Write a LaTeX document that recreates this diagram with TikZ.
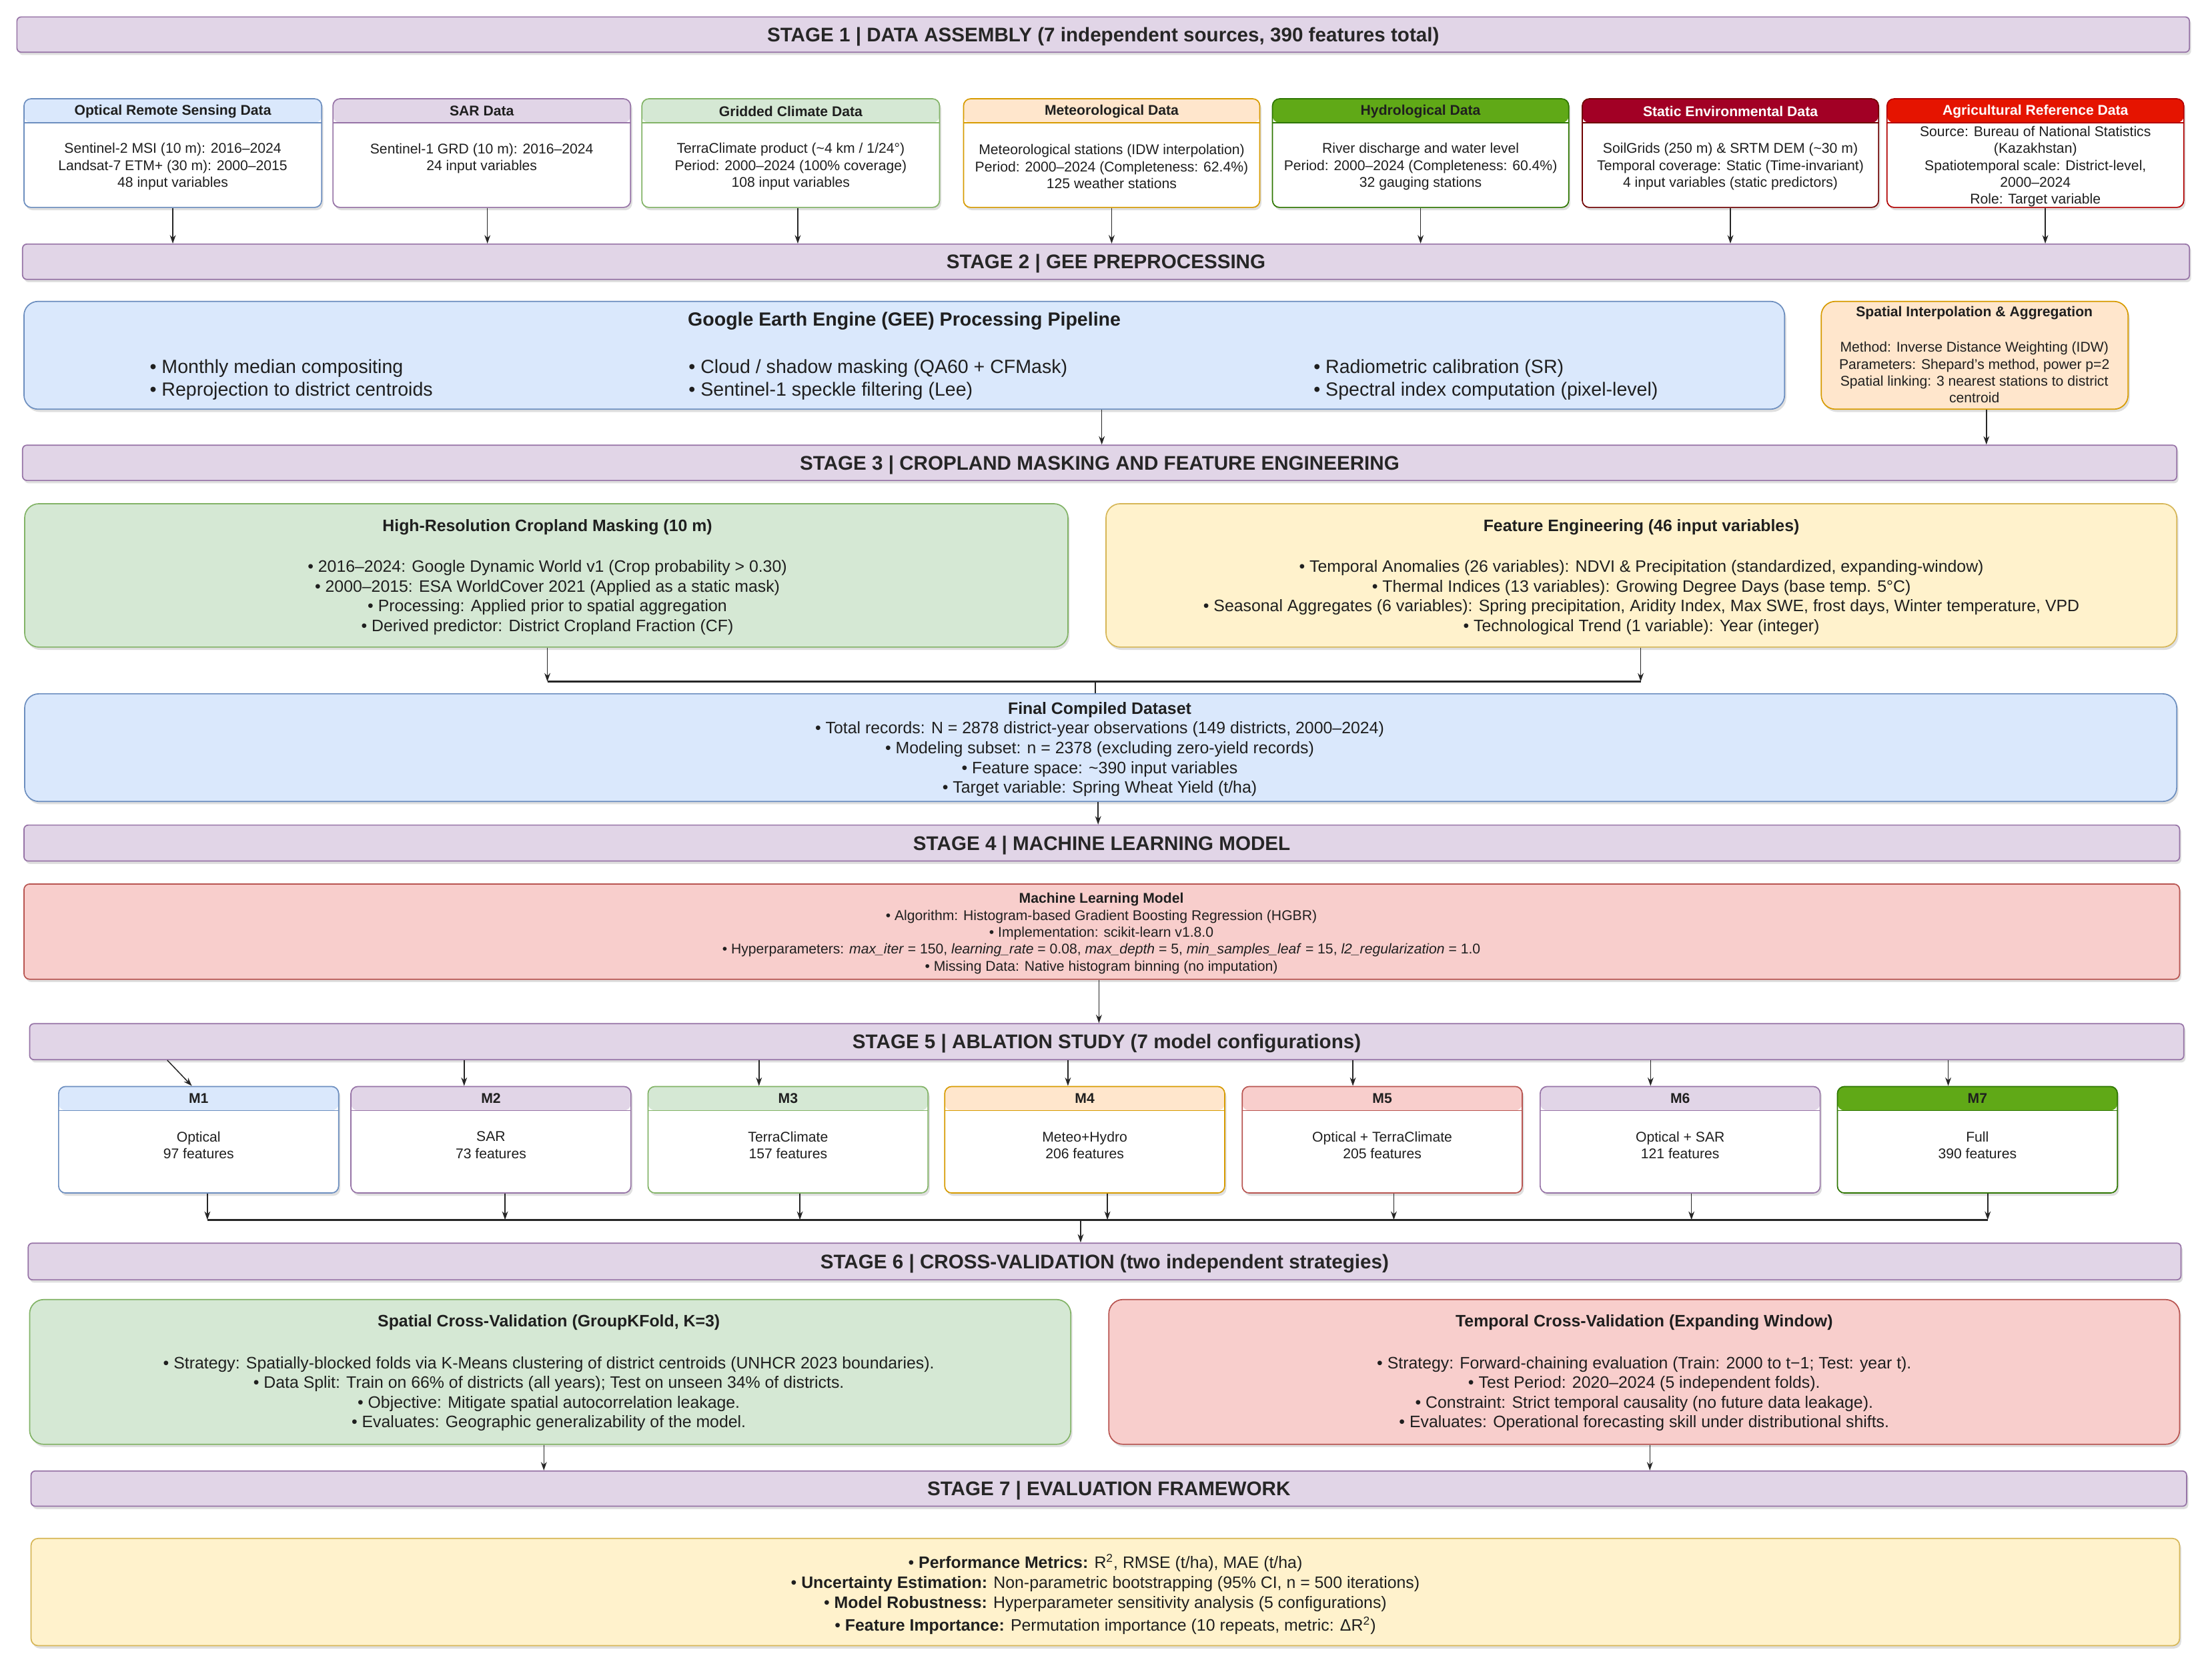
\documentclass[tikz,border=0pt]{standalone}
\usepackage{fontspec}
\setmainfont{Liberation Sans}
\usetikzlibrary{arrows.meta,shadows,calc}
\definecolor{pF}{HTML}{E1D5E7}\definecolor{pD}{HTML}{9673A6}
\definecolor{bF}{HTML}{DAE8FC}\definecolor{bD}{HTML}{6C8EBF}
\definecolor{gF}{HTML}{D5E8D4}\definecolor{gD}{HTML}{82B366}
\definecolor{oF}{HTML}{FFE6CC}\definecolor{oD}{HTML}{D79B00}
\definecolor{yF}{HTML}{FFF2CC}\definecolor{yD}{HTML}{D6B656}
\definecolor{rF}{HTML}{F8CECC}\definecolor{rD}{HTML}{B85450}
\definecolor{dgF}{HTML}{60A917}\definecolor{dgD}{HTML}{2D7600}
\definecolor{crF}{HTML}{A20025}\definecolor{crD}{HTML}{6F0000}
\definecolor{reF}{HTML}{E51400}\definecolor{reD}{HTML}{B20000}
\begin{document}
\begin{tikzpicture}[x=1pt, y=-1pt,
  shd/.style={drop shadow={opacity=0.25, shadow xshift=1.2pt, shadow yshift=-2pt}},
  stagebar/.style={draw=pD, fill=pF, line width=0.8pt, rounded corners=3pt, inner sep=0pt, shd,
    font=\fontsize{14}{16}\selectfont\bfseries, text=black!85, text height=10pt, text depth=0pt},
  bigbox/.style 2 args={fill=#1, draw=#2, line width=0.8pt, rounded corners=10pt, inner sep=0pt, shd},
  hbox/.style n args={3}{rounded corners=5pt, fill=white, draw=#2, line width=0.8pt, inner sep=0pt, shd,
    path picture={\fill[#1] (path picture bounding box.north west) rectangle ([yshift=-#3]path picture bounding box.north east);
      \draw[#2, line width=0.8pt] ([yshift=-#3]path picture bounding box.north west) -- ([yshift=-#3]path picture bounding box.north east);}},
  txt/.style={inner sep=0pt, align=center, text=black!88},
  fa/.style={font=\fontsize{10}{12}\selectfont},
  fab/.style={font=\fontsize{10}{12}\selectfont\bfseries},
  fb/.style={font=\fontsize{11.75}{14}\selectfont},
  fbb/.style={font=\fontsize{11.75}{14}\selectfont\bfseries},
  fc/.style={font=\fontsize{13.5}{16}\selectfont},
  fcb/.style={font=\fontsize{13.5}{16}\selectfont\bfseries},
  arr/.style={draw=black!85, line width=0.7pt, -{Stealth[length=6pt, width=4.2pt]}},
  conn/.style={draw=black!85, line width=0.7pt},
  busline/.style={draw=black!85, line width=1.2pt},
]
\useasboundingbox (0,0) rectangle (1568,1180.7);
\fill[white] (0,0) rectangle (1568,1180.7);

% ---------------- Stage 1
\node[stagebar, minimum width=1540pt, minimum height=25pt] (st1) at (782,24.5)
  {STAGE 1 | DATA ASSEMBLY (7 independent sources, 390 features total)};

\node[hbox={bF}{bD}{17pt}, minimum width=211pt, minimum height=77pt] (s1) at (122.5,108.5) {};
\node[hbox={pF}{pD}{17pt}, minimum width=211pt, minimum height=77pt] (s2) at (341.5,108.5) {};
\node[hbox={gF}{gD}{17pt}, minimum width=211pt, minimum height=77pt] (s3) at (560.5,108.5) {};
\node[hbox={oF}{oD}{17pt}, minimum width=210pt, minimum height=77pt] (s4) at (788,108.5) {};
\node[hbox={dgF}{dgD}{17pt}, minimum width=210pt, minimum height=77pt] (s5) at (1007,108.5) {};
\node[hbox={crF}{crD}{17pt}, minimum width=210pt, minimum height=77pt] (s6) at (1226.6,108.5) {};
\node[hbox={reF}{reD}{17pt}, minimum width=210.4pt, minimum height=77pt] (s7) at (1442.8,108.5) {};

\node[txt, fab] (s1h) at (122.5,78.8) {Optical Remote Sensing Data};
\node[txt, fab] (s2h) at (341.5,78.8) {SAR Data};
\node[txt, fab] (s3h) at (560.5,78.8) {Gridded Climate Data};
\node[txt, fab] (s4h) at (788,78.8) {Meteorological Data};
\node[txt, fab] (s5h) at (1007,78.8) {Hydrological Data};
\node[txt, fab, text=white] (s6h) at (1226.6,78.8) {Static Environmental Data};
\node[txt, fab, text=white] (s7h) at (1442.8,78.8) {Agricultural Reference Data};

\node[txt, fa] (s1t) at (122.5,118) {Sentinel-2 MSI (10 m): 2016–2024\\Landsat-7 ETM+ (30 m): 2000–2015\\48 input variables};
\node[txt, fa] (s2t) at (341.5,112.2) {Sentinel-1 GRD (10 m): 2016–2024\\24 input variables};
\node[txt, fa] (s3t) at (560.5,118) {TerraClimate product (\textasciitilde4 km / 1/24°)\\Period: 2000–2024 (100\% coverage)\\108 input variables};
\node[txt, fa] (s4t) at (788,118) {Meteorological stations (IDW interpolation)\\Period: 2000–2024 (Completeness: 62.4\%)\\125 weather stations};
\node[txt, fa] (s5t) at (1007,118) {River discharge and water level\\Period: 2000–2024 (Completeness: 60.4\%)\\32 gauging stations};
\node[txt, fa] (s6t) at (1226.6,118) {SoilGrids (250 m) \& SRTM DEM (\textasciitilde30 m)\\Temporal coverage: Static (Time-invariant)\\4 input variables (static predictors)};
\node[txt, fa] (s7t) at (1442.8,118) {Source: Bureau of National Statistics\\(Kazakhstan)\\Spatiotemporal scale: District-level,\\2000–2024\\Role: Target variable};

% ---------------- Stage 2
\node[stagebar, minimum width=1536pt, minimum height=25pt] (st2) at (784,185.5)
  {STAGE 2 | GEE PREPROCESSING};

\coordinate (a1) at (s1.south);
\coordinate (a2) at ([xshift=4pt]s2.south);
\coordinate (a3) at ([xshift=5pt]s3.south);
\coordinate (a4) at (s4.south);
\coordinate (a5) at (s5.south);
\coordinate (a6) at (s6.south);
\coordinate (a7) at ([xshift=7pt]s7.south);
\foreach \i in {1,...,7} {\draw[arr] (a\i) -- (a\i |- st2.north);}

\node[bigbox={bF}{bD}, minimum width=1248pt, minimum height=76.4pt] (gee) at (641,251.8) {};
\node[txt, fcb] (geeh) at (641,227.7) {Google Earth Engine (GEE) Processing Pipeline};
\node[txt, fc, anchor=west, align=left] (gee1) at (106,269) {• Monthly median compositing\\• Reprojection to district centroids};
\node[txt, fc, anchor=west, align=left] (gee2) at (488,269) {• Cloud / shadow masking (QA60 + CFMask)\\• Sentinel-1 speckle filtering (Lee)};
\node[txt, fc, anchor=west, align=left] (gee3) at (931,269) {• Radiometric calibration (SR)\\• Spectral index computation (pixel-level)};

\node[bigbox={oF}{oD}, minimum width=217.5pt, minimum height=76.4pt] (sia) at (1399.75,251.8) {};
\node[txt, fab] (siah) at (1399.5,221.6) {Spatial Interpolation \& Aggregation};
\node[txt, fa] (siat) at (1399.5,264) {Method: Inverse Distance Weighting (IDW)\\Parameters: Shepard's method, power p=2\\Spatial linking: 3 nearest stations to district\\centroid};

% ---------------- Stage 3
\node[stagebar, minimum width=1527pt, minimum height=25pt] (st3) at (779.5,328)
  {STAGE 3 | CROPLAND MASKING AND FEATURE ENGINEERING};
\coordinate (g1) at ([xshift=140pt]gee.south);
\coordinate (g2) at ([xshift=8.3pt]sia.south);
\draw[arr] (g1) -- (g1 |- st3.north);
\draw[arr] (g2) -- (g2 |- st3.north);

\node[bigbox={gF}{gD}, minimum width=739.5pt, minimum height=101.6pt] (crop) at (387.25,407.8) {};
\node[txt, fbb] (croph) at (388,373.7) {High-Resolution Cropland Masking (10 m)};
\node[txt, fb] (cropt) at (388,423.5) {• 2016–2024: Google Dynamic World v1 (Crop probability > 0.30)\\• 2000–2015: ESA WorldCover 2021 (Applied as a static mask)\\• Processing: Applied prior to spatial aggregation\\• Derived predictor: District Cropland Fraction (CF)};

\node[bigbox={yF}{yD}, minimum width=759pt, minimum height=101.6pt] (feat) at (1163.5,407.8) {};
\node[txt, fbb] (feath) at (1163.5,373.7) {Feature Engineering (46 input variables)};
\node[txt, fb] (featt) at (1163.5,423.5) {• Temporal Anomalies (26 variables): NDVI \& Precipitation (standardized, expanding-window)\\• Thermal Indices (13 variables): Growing Degree Days (base temp. 5°C)\\• Seasonal Aggregates (6 variables): Spring precipitation, Aridity Index, Max SWE, frost days, Winter temperature, VPD\\• Technological Trend (1 variable): Year (integer)};

\coordinate (b1) at (388,483);
\coordinate (b2) at (1163,483);
\coordinate (b3) at (776.5,483);
\draw[arr] (crop.south -| b1) -- (b1);
\draw[arr] (feat.south -| b2) -- (b2);
\draw[busline] (b1) -- (b2);

\node[bigbox={bF}{bD}, minimum width=1525.5pt, minimum height=76.3pt] (ds) at (780.25,529.85) {};
\draw[conn] (b3) -- (b3 |- ds.north);
\node[txt, fb] (dst) at (779.5,531) {\textbf{Final Compiled Dataset}\\• Total records: N = 2878 district-year observations (149 districts, 2000–2024)\\• Modeling subset: n = 2378 (excluding zero-yield records)\\• Feature space: \textasciitilde390 input variables\\• Target variable: Spring Wheat Yield (t/ha)};

% ---------------- Stage 4
\node[stagebar, minimum width=1528pt, minimum height=25.5pt] (st4) at (781,597.5)
  {STAGE 4 | MACHINE LEARNING MODEL};
\coordinate (d1) at ([xshift=-1.85pt]ds.south);
\draw[arr] (d1) -- (d1 |- st4.north);

\node[bigbox={rF}{rD}, rounded corners=4pt, minimum width=1528pt, minimum height=67.5pt] (ml) at (781,660.25) {};
\node[txt, fa] (mlt) at (780.7,661.5) {\textbf{Machine Learning Model}\\• Algorithm: Histogram-based Gradient Boosting Regression (HGBR)\\• Implementation: scikit-learn v1.8.0\\• Hyperparameters: \textit{max\_iter} = 150, \textit{learning\_rate} = 0.08, \textit{max\_depth} = 5, \textit{min\_samples\_leaf} = 15, \textit{l2\_regularization} = 1.0\\• Missing Data: Native histogram binning (no imputation)};

% ---------------- Stage 5
\node[stagebar, minimum width=1527pt, minimum height=25.5pt] (st5) at (784.5,738.25)
  {STAGE 5 | ABLATION STUDY (7 model configurations)};
\coordinate (l1) at ([xshift=-2pt]ml.south);
\draw[arr] (l1) -- (l1 |- st5.north);

\node[hbox={bF}{bD}{17pt}, minimum width=198.5pt, minimum height=75.5pt] (m1) at (140.8,807.75) {};
\node[hbox={pF}{pD}{17pt}, minimum width=198.5pt, minimum height=75.5pt] (m2) at (348,807.75) {};
\node[hbox={gF}{gD}{17pt}, minimum width=198.5pt, minimum height=75.5pt] (m3) at (558.6,807.75) {};
\node[hbox={oF}{oD}{17pt}, minimum width=198.5pt, minimum height=75.5pt] (m4) at (768.9,807.75) {};
\node[hbox={rF}{rD}{17pt}, minimum width=198.5pt, minimum height=75.5pt] (m5) at (979.8,807.75) {};
\node[hbox={pF}{pD}{17pt}, minimum width=198.5pt, minimum height=75.5pt] (m6) at (1191,807.75) {};
\node[hbox={dgF}{dgD}{17pt}, minimum width=198.5pt, minimum height=75.5pt] (m7) at (1401.7,807.75) {};

\node[txt, fab] (m1h) at (140.8,778.6) {M1};
\node[txt, fab] (m2h) at (348,778.6) {M2};
\node[txt, fab] (m3h) at (558.6,778.6) {M3};
\node[txt, fab] (m4h) at (768.9,778.6) {M4};
\node[txt, fab] (m5h) at (979.8,778.6) {M5};
\node[txt, fab] (m6h) at (1191,778.6) {M6};
\node[txt, fab] (m7h) at (1401.7,778.6) {M7};

\node[txt, fa] (m1t) at (140.8,811.5) {Optical\\97 features};
\node[txt, fa] (m2t) at (348,811.5) {SAR\\73 features};
\node[txt, fa] (m3t) at (558.6,811.5) {TerraClimate\\157 features};
\node[txt, fa] (m4t) at (768.9,811.5) {Meteo+Hydro\\206 features};
\node[txt, fa] (m5t) at (979.8,811.5) {Optical + TerraClimate\\205 features};
\node[txt, fa] (m6t) at (1191,811.5) {Optical + SAR\\121 features};
\node[txt, fa] (m7t) at (1401.7,811.5) {Full\\390 features};

% top arrows into models
\coordinate (t1s) at (118.6,0);
\coordinate (t1e) at (136,0);
\draw[arr] (t1s |- st5.south) -- (t1e |- m1.north);
\coordinate (t2) at (329,0);
\coordinate (t3) at (538,0);
\coordinate (t4) at (757,0);
\coordinate (t5) at (959,0);
\coordinate (t6) at (1170,0);
\coordinate (t7) at (1381,0);
\foreach \i in {2,...,7} {\draw[arr] (t\i |- st5.south) -- (t\i |- m\i.north);}

% bottom arrows to bus
\coordinate (u1) at (147,864.5);
\coordinate (u2) at (358,864.5);
\coordinate (u3) at (567,864.5);
\coordinate (u4) at (785,864.5);
\coordinate (u5) at (988,864.5);
\coordinate (u6) at (1199,864.5);
\coordinate (u7) at (1409,864.5);
\foreach \i in {1,...,7} {\draw[arr] (u\i |- m\i.south) -- (u\i);}
\draw[busline] (u1) -- (u7);

% ---------------- Stage 6
\node[stagebar, minimum width=1526pt, minimum height=26pt] (st6) at (783,894)
  {STAGE 6 | CROSS-VALIDATION (two independent strategies)};
\coordinate (u0) at (766,864.5);
\draw[arr] (u0) -- (u0 |- st6.north);

\node[bigbox={gF}{gD}, minimum width=738pt, minimum height=102.6pt] (scv) at (390,972.3) {};
\node[txt, fbb] (scvh) at (389,937.2) {Spatial Cross-Validation (GroupKFold, K=3)};
\node[txt, fb] (scvt) at (389,987.8) {• Strategy: Spatially-blocked folds via K-Means clustering of district centroids (UNHCR 2023 boundaries).\\• Data Split: Train on 66\% of districts (all years); Test on unseen 34\% of districts.\\• Objective: Mitigate spatial autocorrelation leakage.\\• Evaluates: Geographic generalizability of the model.};

\node[bigbox={rF}{rD}, minimum width=759pt, minimum height=102.6pt] (tcv) at (1165.5,972.3) {};
\node[txt, fbb] (tcvh) at (1165.5,937.2) {Temporal Cross-Validation (Expanding Window)};
\node[txt, fb] (tcvt) at (1165.5,987.8) {• Strategy: Forward-chaining evaluation (Train: 2000 to t−1; Test: year t).\\• Test Period: 2020–2024 (5 independent folds).\\• Constraint: Strict temporal causality (no future data leakage).\\• Evaluates: Operational forecasting skill under distributional shifts.};

% ---------------- Stage 7
\node[stagebar, minimum width=1528pt, minimum height=25pt] (st7) at (786,1055)
  {STAGE 7 | EVALUATION FRAMEWORK};
\coordinate (v1) at ([xshift=-4.5pt]scv.south);
\coordinate (v2) at ([xshift=4pt]tcv.south);
\draw[arr] (v1) -- (v1 |- st7.north);
\draw[arr] (v2) -- (v2 |- st7.north);

\node[bigbox={yF}{yD}, rounded corners=5pt, minimum width=1523pt, minimum height=76pt] (ev) at (783.5,1128.3) {};
\node[txt, fb] (evt) at (783.5,1130) {• \textbf{Performance Metrics:} R\textsuperscript{2}, RMSE (t/ha), MAE (t/ha)\\• \textbf{Uncertainty Estimation:} Non-parametric bootstrapping (95\% CI, n = 500 iterations)\\• \textbf{Model Robustness:} Hyperparameter sensitivity analysis (5 configurations)\\[2.5pt]• \textbf{Feature Importance:} Permutation importance (10 repeats, metric: ΔR\textsuperscript{2})};
\end{tikzpicture}
\end{document}
